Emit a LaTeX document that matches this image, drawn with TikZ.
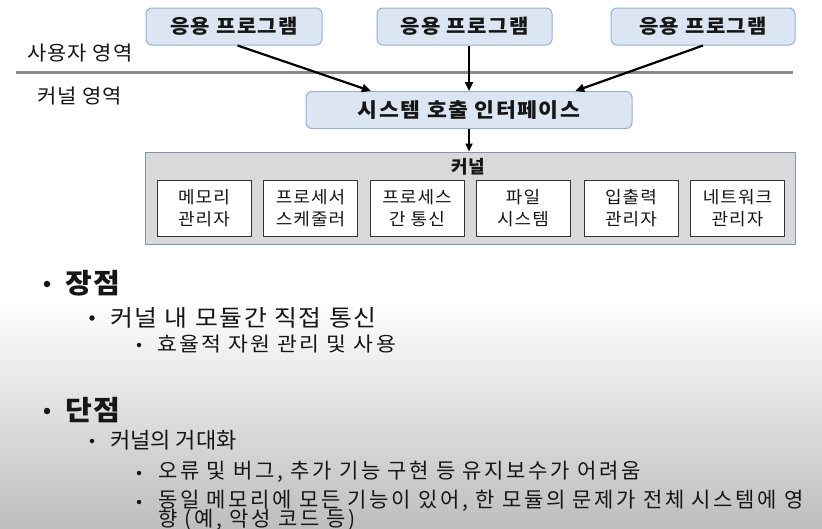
\documentclass[tikz,border=0pt]{standalone}
\usepackage{fontspec}
\setmainfont{Noto Sans CJK KR}
\usetikzlibrary{arrows.meta,calc}
\definecolor{appfill}{RGB}{220,230,242}
\definecolor{appdraw}{RGB}{150,178,210}
\definecolor{kfill}{RGB}{217,217,217}
\definecolor{kdraw}{RGB}{125,150,180}
\definecolor{sepgray}{RGB}{140,140,140}
\definecolor{bgbot}{RGB}{190,190,190}
\definecolor{txt}{RGB}{22,22,22}
\newcommand{\ls}[2]{\addfontfeatures{FakeStretch=#1,LetterSpace=#2}}
\begin{document}
\begin{tikzpicture}[x=1pt,y=-1pt,
  appbox/.style={draw=appdraw, line width=1pt, fill=appfill, rounded corners=6pt,
    minimum height=37pt, inner sep=0pt, text=txt,
    font=\fontsize{19.5}{22}\selectfont\bfseries\ls{1.08}{7}},
  modbox/.style={draw=black!80, line width=0.8pt, fill=white, minimum width=94pt,
    minimum height=56pt, inner sep=0pt, align=center, text=txt,
    font=\fontsize{17}{22}\selectfont\ls{1.06}{6}},
  arr/.style={line width=2.2pt, -{Triangle[length=9pt,width=8pt]}},
  lbl/.style={inner sep=0pt, anchor=west, text=txt},
  bul/.style={circle, fill=txt, inner sep=0pt, minimum size=#1},
  bul/.default=5.5pt,
  l1/.style={lbl, font=\fontsize{27.5}{30}\selectfont\bfseries\ls{1.06}{4}},
  l2/.style={lbl, font=\fontsize{23}{26}\selectfont\ls{1.08}{7.5}},
  l3/.style={lbl, font=\fontsize{20}{23}\selectfont\ls{1.08}{11.5}},
  l2b/.style={lbl, font=\fontsize{22}{24}\selectfont},
  l3b/.style={lbl, font=\fontsize{21}{23}\selectfont\ls{1.0}{12.5}}
]
\useasboundingbox (0,0) rectangle (822,528);
\fill[white] (0,0) rectangle (822,528);
\shade[top color=white, bottom color=bgbot] (0,300) rectangle (822,528);

% application boxes
\node[appbox, minimum width=176pt] (app1) at (234,26.5) {응용 프로그램};
\node[appbox, minimum width=175pt] (app2) at (464.5,26.5) {응용 프로그램};
\node[appbox, minimum width=184pt] (app3) at (703,26.5) {응용 프로그램};

% region labels and separator
\node[lbl, font=\fontsize{20}{22}\selectfont\ls{1.05}{5}] (ulab) at (27,53) {사용자 영역};
\node[lbl, font=\fontsize{20}{22}\selectfont\ls{1.05}{5}] (klab) at (37,96) {커널 영역};
\coordinate (sepL) at (16,72);
\coordinate (sepR) at (793,72);
\draw[sepgray, line width=3pt] (sepL) -- (sepR);

% system call interface
\node[appbox, minimum width=326pt, font=\fontsize{20}{22}\selectfont\bfseries\ls{1.08}{7.5}] (sys) at (469,110) {시스템 호출 인터페이스};

% kernel
\node[draw=kdraw, line width=1pt, fill=kfill, minimum width=650pt, minimum height=92pt, inner sep=0pt] (kern) at (470,198) {};
\node[inner sep=0pt, text=txt, font=\fontsize{18}{20}\selectfont\bfseries] (kt) at (468,167) {커널};

\node[modbox] (m1) at (204,208) {메모리\\관리자};
\node[modbox] (m2) at (310.5,208) {프로세서\\스케줄러};
\node[modbox] (m3) at (417,208) {프로세스\\간 통신};
\node[modbox] (m4) at (523,208) {파일\\시스템};
\node[modbox] (m5) at (631,208) {입출력\\관리자};
\node[modbox] (m6) at (737.5,208) {네트워크\\관리자};

% arrows
\draw[arr] ($(app1.south west)!0.52!(app1.south east)$) -- ($(sys.north west)!0.2!(sys.north east)$);
\draw[arr] (app2.south -| sys.north) -- (sys.north);
\draw[arr] (app3.south) -- ($(sys.north west)!0.825!(sys.north east)$);
\draw[line width=2pt, -{Triangle[length=8pt,width=7pt]}] (sys.south) -- (kern.north -| sys.south);

% bullets
\node[bul=6.5pt] (b1) at (47,284) {};
\node[l1] (t1) at (65,283) {장점};
\node[bul] (b2) at (92,318) {};
\node[l2] (t2) at (110,318) {커널 내 모듈간 직접 통신};
\node[bul=4.5pt] (b3) at (139,345) {};
\node[l3] (t3) at (157,344) {효율적 자원 관리 및 사용};

\node[bul=6.5pt] (b4) at (47,411) {};
\node[l1] (t4) at (65,410) {단점};
\node[bul=4.5pt] (b5) at (92,441) {};
\node[l2b] (t5) at (110,440) {커널의 거대화};
\node[bul=4.5pt] (b6) at (139,473) {};
\node[l3b] (t6) at (158,472) {오류 및 버그, 추가 기능 구현 등 유지보수가 어려움};
\node[bul=4.5pt] (b7) at (139,502) {};
\node[l3b] (t7) at (158,501) {동일 메모리에 모든 기능이 있어, 한 모듈의 문제가 전체 시스템에 영};
\node[l3b] (t8) at (158,520) {향 (예, 악성 코드 등)};
\end{tikzpicture}
\end{document}
